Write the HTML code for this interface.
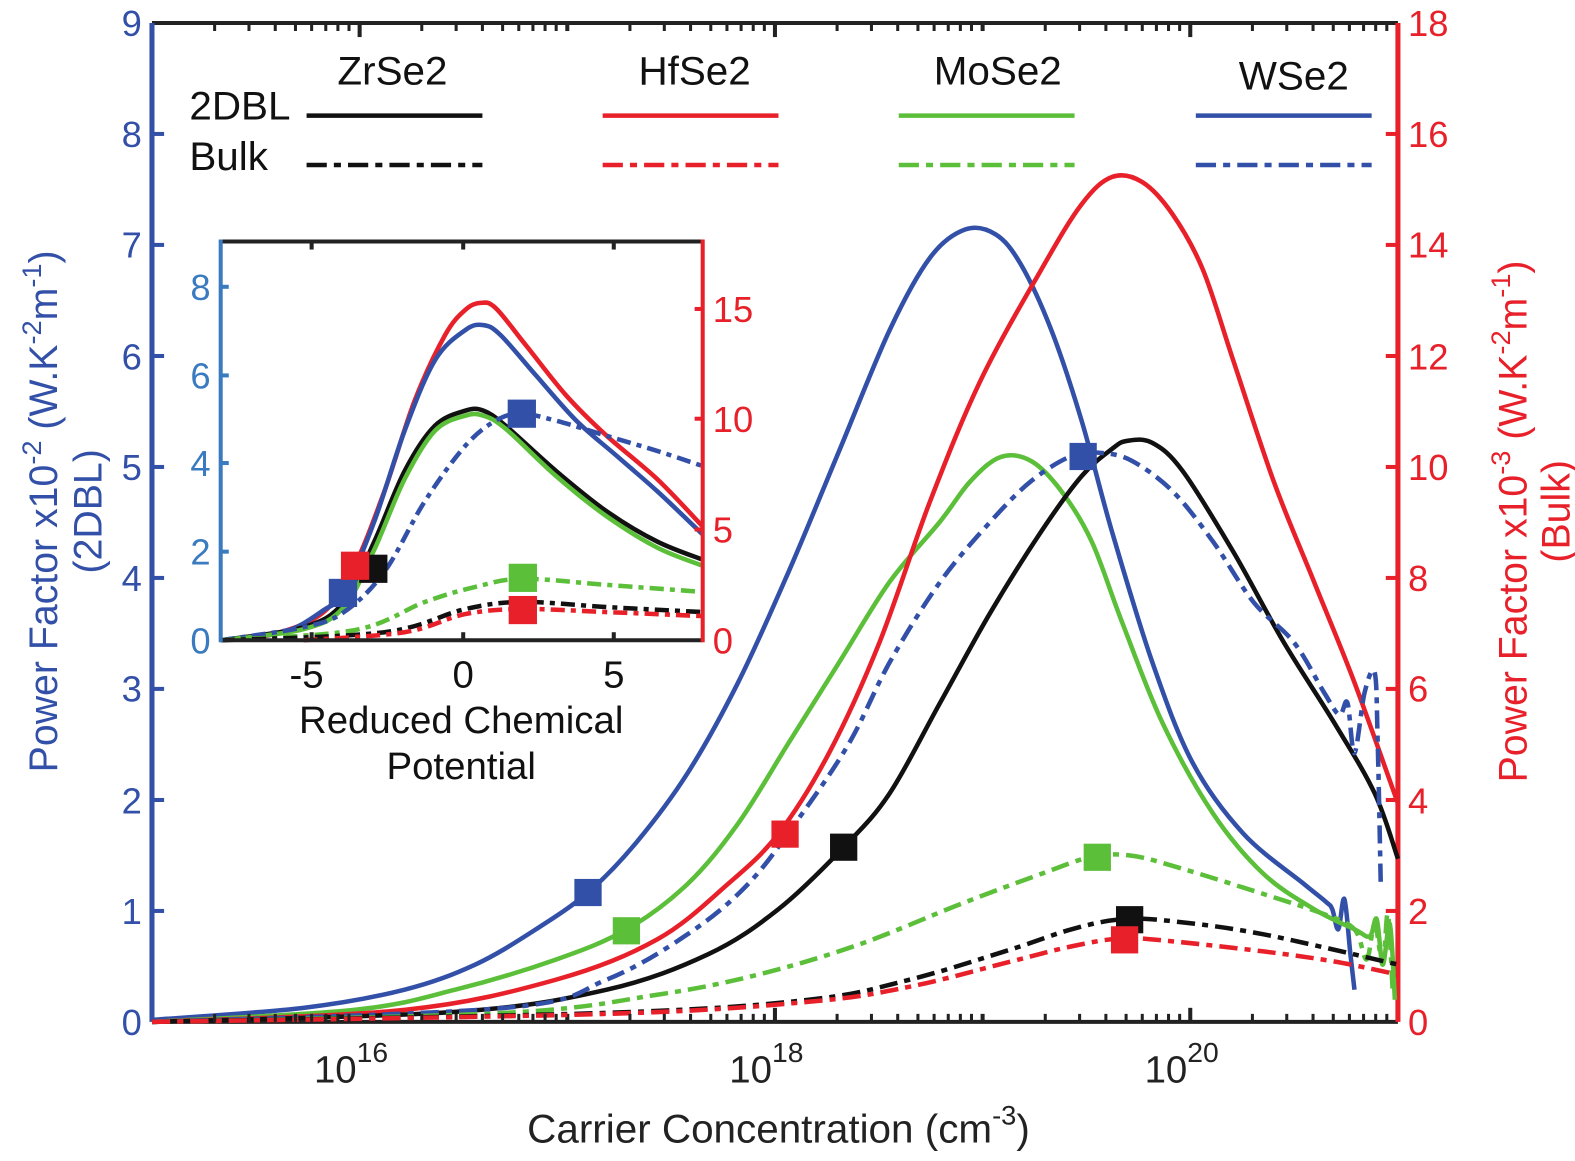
<!DOCTYPE html>
<html><head><meta charset="utf-8"><style>
html,body{margin:0;padding:0;background:#fff;}
svg{display:block;}
text{font-family:"Liberation Sans",sans-serif;}
</style></head><body>
<svg id="chart" width="1575" height="1161" viewBox="0 0 1575 1161" xmlns="http://www.w3.org/2000/svg">
<g transform="matrix(1.0105 0 0 1.007 0.4 -2.2)">
<g stroke-width="4" fill="none">
<line x1="150" y1="25" x2="1383" y2="25" stroke="#222"/>
<line x1="150" y1="1017" x2="1383" y2="1017" stroke="#222"/>
<line x1="150" y1="25" x2="150" y2="1017" stroke="#3350a8" stroke-width="5"/>
<line x1="1383" y1="25" x2="1383" y2="1017" stroke="#e8202a" stroke-width="5"/>
</g>
<g stroke="#222" stroke-width="4">
<line x1="355.5" y1="1017" x2="355.5" y2="1003"/><line x1="766.5" y1="1017" x2="766.5" y2="1003"/><line x1="1177.5" y1="1017" x2="1177.5" y2="1003"/>
<line x1="355.5" y1="25" x2="355.5" y2="39"/><line x1="766.5" y1="25" x2="766.5" y2="39"/><line x1="1177.5" y1="25" x2="1177.5" y2="39"/>
<line x1="561" y1="1017" x2="561" y2="1009"/><line x1="972" y1="1017" x2="972" y2="1009"/>
<line x1="561" y1="25" x2="561" y2="33"/><line x1="972" y1="25" x2="972" y2="33"/>
</g>
<g stroke="#3350a8" stroke-width="4">
<line x1="150" y1="906.8" x2="162" y2="906.8"/><line x1="150" y1="796.6" x2="162" y2="796.6"/><line x1="150" y1="686.3" x2="162" y2="686.3"/><line x1="150" y1="576.1" x2="162" y2="576.1"/><line x1="150" y1="465.9" x2="162" y2="465.9"/><line x1="150" y1="355.7" x2="162" y2="355.7"/><line x1="150" y1="245.4" x2="162" y2="245.4"/><line x1="150" y1="135.2" x2="162" y2="135.2"/>
</g>
<g stroke="#e8202a" stroke-width="4">
<line x1="1371" y1="906.8" x2="1383" y2="906.8"/><line x1="1371" y1="796.6" x2="1383" y2="796.6"/><line x1="1371" y1="686.3" x2="1383" y2="686.3"/><line x1="1371" y1="576.1" x2="1383" y2="576.1"/><line x1="1371" y1="465.9" x2="1383" y2="465.9"/><line x1="1371" y1="355.7" x2="1383" y2="355.7"/><line x1="1371" y1="245.4" x2="1383" y2="245.4"/><line x1="1371" y1="135.2" x2="1383" y2="135.2"/>
</g>
<g fill="#3350a8" font-size="36" text-anchor="end">
<text x="140" y="1030">0</text><text x="140" y="920">1</text><text x="140" y="810">2</text><text x="140" y="699">3</text><text x="140" y="589">4</text><text x="140" y="479">5</text><text x="140" y="369">6</text><text x="140" y="258">7</text><text x="140" y="148">8</text><text x="140" y="38">9</text>
</g>
<g fill="#e8202a" font-size="36">
<text x="1393" y="1030">0</text><text x="1393" y="920">2</text><text x="1393" y="810">4</text><text x="1393" y="699">6</text><text x="1393" y="589">8</text><text x="1393" y="479">10</text><text x="1393" y="369">12</text><text x="1393" y="258">14</text><text x="1393" y="148">16</text><text x="1393" y="38">18</text>
</g>
<g fill="#222" font-size="38" text-anchor="middle">
<text x="347" y="1077">10<tspan font-size="28" dy="-20">16</tspan></text>
<text x="758" y="1077">10<tspan font-size="28" dy="-20">18</tspan></text>
<text x="1169" y="1077">10<tspan font-size="28" dy="-20">20</tspan></text>
<text x="770" y="1137" font-size="40">Carrier Concentration (cm<tspan font-size="27" dy="-18">-3</tspan><tspan dy="18">)</tspan></text>
</g>
<text transform="translate(56,510) rotate(-90)" fill="#3350a8" font-size="39" text-anchor="middle">Power Factor x10<tspan font-size="27" dy="-16">-2</tspan><tspan dy="16"> (W.K</tspan><tspan font-size="27" dy="-16">-2</tspan><tspan dy="16">m</tspan><tspan font-size="27" dy="-16">-1</tspan><tspan dy="16">)</tspan></text>
<text transform="translate(100,510) rotate(-90)" fill="#3350a8" font-size="39" text-anchor="middle">(2DBL)</text>
<text transform="translate(1510,520) rotate(-90)" fill="#e8202a" font-size="39" text-anchor="middle">Power Factor x10<tspan font-size="27" dy="-16">-3</tspan><tspan dy="16"> (W.K</tspan><tspan font-size="27" dy="-16">-2</tspan><tspan dy="16">m</tspan><tspan font-size="27" dy="-16">-1</tspan><tspan dy="16">)</tspan></text>
<text transform="translate(1553,510) rotate(-90)" fill="#e8202a" font-size="39" text-anchor="middle">(Bulk)</text>
<g fill="#111" font-size="40">
<text x="388" y="86" text-anchor="middle">ZrSe2</text>
<text x="687" y="86" text-anchor="middle">HfSe2</text>
<text x="987" y="86" text-anchor="middle">MoSe2</text>
<text x="1280" y="91" text-anchor="middle">WSe2</text>
<text x="187" y="121">2DBL</text>
<text x="187" y="171">Bulk</text>
</g>
<g stroke-width="4.5" fill="none">
<line x1="303" y1="117" x2="477" y2="117" stroke="#111"/>
<line x1="596" y1="117" x2="770" y2="117" stroke="#e8202a"/>
<line x1="889" y1="117" x2="1063" y2="117" stroke="#5cbf3a"/>
<line x1="1183" y1="117" x2="1357" y2="117" stroke="#3350a8"/>
<g stroke-dasharray="20 7 7 7">
<line x1="303" y1="166" x2="477" y2="166" stroke="#111"/>
<line x1="596" y1="166" x2="770" y2="166" stroke="#e8202a"/>
<line x1="889" y1="166" x2="1063" y2="166" stroke="#5cbf3a"/>
<line x1="1183" y1="166" x2="1357" y2="166" stroke="#3350a8"/>
</g>
</g>
<g fill="none" stroke-width="4.5" stroke-linejoin="round" class="sm">
<polyline stroke="#3350a8" points="150,1015 300,1003 400,985 470,960 530,925 582,888 630,838 680,770 730,680 780,570 830,450 880,330 920,258 955,230 985,235 1010,265 1040,330 1070,420 1100,530 1140,660 1180,760 1230,830 1290,880 1312,898 1318,905 1324,925 1330,895 1336,950 1340,985"/>
<polyline stroke="#5cbf3a" points="150,1017 350,1005 450,985 550,955 620,925 680,880 730,820 780,740 830,660 880,580 930,520 960,480 990,456 1020,460 1050,490 1080,540 1110,620 1150,720 1200,810 1250,870 1300,905 1340,925 1355,932 1362,915 1368,960 1375,920 1380,995"/>
<polyline stroke="#e8202a" points="150,1017 400,1005 550,975 650,935 720,880 770,830 820,750 870,640 920,500 970,380 1030,270 1070,205 1100,178 1130,183 1160,215 1190,270 1220,360 1260,480 1300,580 1340,680 1383,800"/>
<polyline stroke="#111" points="150,1017 450,1007 600,985 700,950 770,905 835,843 880,790 930,700 980,610 1030,530 1070,475 1100,448 1115,440 1140,442 1170,470 1220,550 1270,640 1320,720 1360,790 1383,855"/>
<g stroke-dasharray="18 7 6 7">
<polyline stroke="#3350a8" points="150,1017 500,1003 600,975 680,930 740,880 790,815 840,740 880,660 930,580 980,520 1020,480 1060,455 1090,452 1120,460 1160,490 1200,540 1240,600 1280,640 1310,690 1325,712 1333,700 1340,750 1350,690 1360,670 1363,740 1366,880"/>
<polyline stroke="#5cbf3a" points="150,1017 500,1008 650,990 750,970 850,940 950,900 1030,870 1080,853 1120,852 1170,865 1250,890 1310,910 1340,925 1352,955 1360,920 1368,960 1373,910 1378,990"/>
<polyline stroke="#111" points="150,1017 600,1008 800,995 900,975 1000,945 1060,925 1110,915 1160,917 1250,930 1383,960"/>
<polyline stroke="#e8202a" points="150,1017 600,1009 800,997 900,982 1000,957 1060,942 1110,934 1160,937 1250,947 1320,957 1383,970"/>
</g>
</g>
<g>
<rect x="568" y="875" width="27" height="27" fill="#3350a8"/>
<rect x="606" y="913" width="27" height="27" fill="#5cbf3a"/>
<rect x="763" y="817" width="27" height="27" fill="#e8202a"/>
<rect x="821" y="830" width="27" height="27" fill="#111"/>
<rect x="1058" y="442" width="27" height="27" fill="#3350a8"/>
<rect x="1072" y="840" width="27" height="27" fill="#5cbf3a"/>
<rect x="1104" y="902" width="27" height="27" fill="#111"/>
<rect x="1099" y="922" width="27" height="27" fill="#e8202a"/>
</g>
<rect x="218" y="242" width="477" height="396" fill="#fff"/>
<g fill="none" stroke-width="4.5" stroke-linejoin="round" class="sm">
<polyline stroke="#e8202a" points="218,638 270,632 320,610 350,565 380,490 410,400 440,335 460,310 475,303 490,308 520,345 560,395 600,435 650,478 695,525"/>
<polyline stroke="#3350a8" points="218,638 280,630 320,608 340,590 370,520 400,430 430,360 460,330 478,325 495,335 530,375 570,420 610,455 650,490 695,533"/>
<polyline stroke="#111" points="218,638 300,625 340,600 370,540 400,470 430,425 460,410 478,410 500,425 550,470 600,510 650,540 695,558"/>
<polyline stroke="#5cbf3a" points="218,638 300,627 340,605 370,548 400,478 430,430 460,415 478,415 500,428 550,475 600,515 650,546 695,564"/>
<g stroke-dasharray="14 6 5 6">
<polyline stroke="#3350a8" points="218,638 300,625 340,610 380,570 420,500 460,445 490,420 515,413 550,420 600,435 650,450 695,465"/>
<polyline stroke="#5cbf3a" points="218,638 350,628 420,600 470,585 517,577 600,583 695,590"/>
<polyline stroke="#111" points="218,638 380,630 460,607 517,600 600,605 695,610"/>
<polyline stroke="#e8202a" points="300,638 400,630 460,612 517,607 600,610 695,614"/>
</g>
</g>
<rect x="325" y="577" width="28" height="28" fill="#3350a8"/>
<rect x="355" y="553" width="28" height="28" fill="#111"/>
<rect x="337" y="550" width="28" height="28" fill="#e8202a"/>
<rect x="502" y="399" width="28" height="28" fill="#3350a8"/>
<rect x="503" y="562" width="28" height="28" fill="#5cbf3a"/>
<rect x="503" y="594" width="28" height="28" fill="#e8202a"/>
<g stroke-width="4">
<line x1="218" y1="242" x2="695" y2="242" stroke="#222"/>
<line x1="218" y1="638" x2="695" y2="638" stroke="#222"/>
<line x1="218" y1="240" x2="218" y2="640" stroke="#3a7bc0"/>
<line x1="695" y1="240" x2="695" y2="640" stroke="#e8202a"/>
<g stroke="#222"><line x1="308" y1="638" x2="308" y2="630"/><line x1="458" y1="638" x2="458" y2="630"/><line x1="607" y1="638" x2="607" y2="630"/><line x1="308" y1="242" x2="308" y2="250"/><line x1="458" y1="242" x2="458" y2="250"/><line x1="607" y1="242" x2="607" y2="250"/></g>
<g stroke="#3a7bc0"><line x1="218" y1="550" x2="226" y2="550"/><line x1="218" y1="462" x2="226" y2="462"/><line x1="218" y1="375" x2="226" y2="375"/><line x1="218" y1="287" x2="226" y2="287"/></g>
<g stroke="#e8202a"><line x1="687" y1="528" x2="695" y2="528"/><line x1="687" y1="418" x2="695" y2="418"/><line x1="687" y1="309" x2="695" y2="309"/></g>
</g>
<g fill="#3a7bc0" font-size="36" text-anchor="end">
<text x="208" y="651">0</text><text x="208" y="563">2</text><text x="208" y="475">4</text><text x="208" y="388">6</text><text x="208" y="300">8</text>
</g>
<g fill="#e8202a" font-size="36">
<text x="705" y="651">0</text><text x="705" y="541">5</text><text x="705" y="431">10</text><text x="705" y="322">15</text>
</g>
<g fill="#111" font-size="38" text-anchor="middle">
<text x="303" y="685">-5</text><text x="458" y="685">0</text><text x="607" y="685">5</text>
<text x="456" y="730">Reduced Chemical</text>
<text x="456" y="776">Potential</text>
</g>
<g stroke="#222" stroke-width="3">
<path d="M212,1017v-8M246,1017v-8M272,1017v-8M292,1017v-8M308,1017v-8M322,1017v-8M334,1017v-8M345,1017v-8
M417,1017v-8M451,1017v-8M477,1017v-8M497,1017v-8M513,1017v-8M527,1017v-8M539,1017v-8M550,1017v-8
M623,1017v-8M657,1017v-8M683,1017v-8M703,1017v-8M719,1017v-8M733,1017v-8M745,1017v-8M756,1017v-8
M828,1017v-8M862,1017v-8M888,1017v-8M908,1017v-8M924,1017v-8M938,1017v-8M950,1017v-8M961,1017v-8
M1034,1017v-8M1068,1017v-8M1094,1017v-8M1114,1017v-8M1130,1017v-8M1144,1017v-8M1156,1017v-8M1167,1017v-8
M1239,1017v-8M1273,1017v-8M1299,1017v-8M1319,1017v-8M1335,1017v-8M1349,1017v-8M1361,1017v-8M1372,1017v-8
M212,25v8M246,25v8M272,25v8M292,25v8M308,25v8M322,25v8M334,25v8M345,25v8
M417,25v8M451,25v8M477,25v8M497,25v8M513,25v8M527,25v8M539,25v8M550,25v8
M623,25v8M657,25v8M683,25v8M703,25v8M719,25v8M733,25v8M745,25v8M756,25v8
M828,25v8M862,25v8M888,25v8M908,25v8M924,25v8M938,25v8M950,25v8M961,25v8
M1034,25v8M1068,25v8M1094,25v8M1114,25v8M1130,25v8M1144,25v8M1156,25v8M1167,25v8
M1239,25v8M1273,25v8M1299,25v8M1319,25v8M1335,25v8M1349,25v8M1361,25v8M1372,25v8"/>
</g>
</g>
</svg>
<script>
(function(){
var NS="http://www.w3.org/2000/svg";
document.querySelectorAll(".sm polyline").forEach(function(pl){
  var p=pl.getAttribute("points").trim().split(/\s+/).map(function(s){return s.split(",").map(Number);});
  var d="M"+p[0][0]+","+p[0][1];
  for(var i=0;i<p.length-1;i++){
    var p0=p[i-1]||p[i],p1=p[i],p2=p[i+1],p3=p[i+2]||p2;
    var c1x=p1[0]+(p2[0]-p0[0])/6,c1y=p1[1]+(p2[1]-p0[1])/6;
    var c2x=p2[0]-(p3[0]-p1[0])/6,c2y=p2[1]-(p3[1]-p1[1])/6;
    d+=" C"+c1x.toFixed(1)+","+c1y.toFixed(1)+" "+c2x.toFixed(1)+","+c2y.toFixed(1)+" "+p2[0]+","+p2[1];
  }
  var path=document.createElementNS(NS,"path");
  path.setAttribute("d",d);
  path.setAttribute("stroke",pl.getAttribute("stroke"));
  pl.parentNode.replaceChild(path,pl);
});
})();
</script>
</body></html>
